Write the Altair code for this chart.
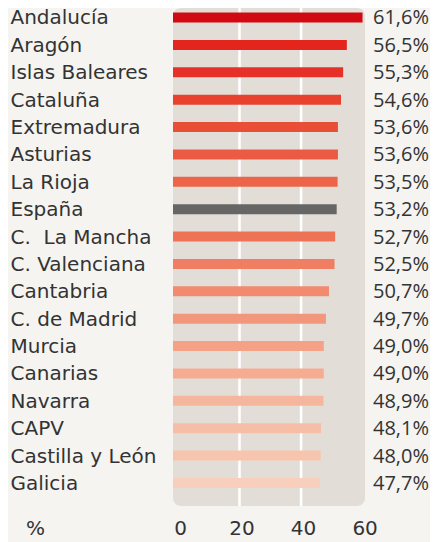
import altair as alt
import pandas as pd

regions = ["Andalucía", "Aragón", "Islas Baleares", "Cataluña", "Extremadura",
           "Asturias", "La Rioja", "España", "C.\u00a0 La Mancha", "C. Valenciana",
           "Cantabria", "C. de Madrid", "Murcia", "Canarias", "Navarra", "CAPV",
           "Castilla y León", "Galicia"]
values = [61.6, 56.5, 55.3, 54.6, 53.6, 53.6, 53.5, 53.2, 52.7, 52.5,
          50.7, 49.7, 49.0, 49.0, 48.9, 48.1, 48.0, 47.7]
labels = ["61,6%", "56,5%", "55,3%", "54,6%", "53,6%", "53,6%", "53,5%", "53,2%",
          "52,7%", "52,5%", "50,7%", "49,7%", "49,0%", "49,0%", "48,9%", "48,1%",
          "48,0%", "47,7%"]
colors = ["#D10A11", "#E4251D", "#E53127", "#E8422F", "#E94E37", "#EB5A42",
          "#EC6549", "#666666", "#EE7356", "#F07E63", "#F18A6F", "#F2977C",
          "#F4A186", "#F5AC91", "#F6B69E", "#F7BEA7", "#F7C4AE", "#F8CEBD"]
ticks = [0, 20, 40, 60]
grid_values = [20, 40]

FONT = "DejaVu Sans"
VFONT = "Open Sans"
FS = 20
TXT = "#333333"

df = pd.DataFrame({"region": regions, "value": values, "label": labels, "color": colors})
grid_df = pd.DataFrame({"g": grid_values})

yscale = alt.Scale(paddingInner=0.635, paddingOuter=0.411, align=0.2)
xscale = alt.Scale(domain=[0, 62.4], nice=False, zero=True)

y_enc = alt.Y("region:N", sort=regions, scale=yscale,
              axis=alt.Axis(title=None, labelAlign="left", labelPadding=163,
                            labelFontSize=FS, labelFont=FONT, labelColor=TXT,
                            ticks=False, domain=False, labelBaseline="middle",
                            labelOffset=1, labelLimit=0))

grid = alt.Chart(grid_df).mark_rule(color="white", strokeWidth=2.5, xOffset=5).encode(
    x=alt.X("g:Q", scale=xscale, title="%",
            axis=alt.Axis(values=ticks, grid=False, ticks=False, domain=False,
                          labelFontSize=FS, labelFont=FONT, labelColor=TXT,
                          labelPadding=22, labelBaseline="middle", labelFlush=False,
                          tickOffset=5, labelOffset=2,
                          titleX=-138, titleY=22, titleBaseline="middle",
                          titleAlign="center", titleFont=FONT, titleFontSize=FS,
                          titleFontWeight="normal", titleColor=TXT))
)

bars = alt.Chart(df).mark_bar(size=10).encode(
    x=alt.X("value:Q", scale=xscale, title="%"),
    y=y_enc,
    color=alt.Color("color:N", scale=None),
)

text = alt.Chart(df).mark_text(align="left", baseline="middle", fontSize=FS,
                               font=VFONT, color=TXT, dy=1).encode(
    x=alt.datum(65.0),
    y=alt.Y("region:N", sort=regions, scale=yscale),
    text="label:N",
)

chart = alt.layer(grid, bars, text).properties(
    width=192, height=498,
    padding={"left": 165, "top": 0, "right": 65, "bottom": 36},
    autosize=alt.AutoSizeParams(type="none"),
    background="#F5F4F1",
).configure_view(
    fill="#E2DED7", stroke=None, cornerRadius=8
)

chart.save("out.html", embed_options={"renderer": "svg", "actions": False})
